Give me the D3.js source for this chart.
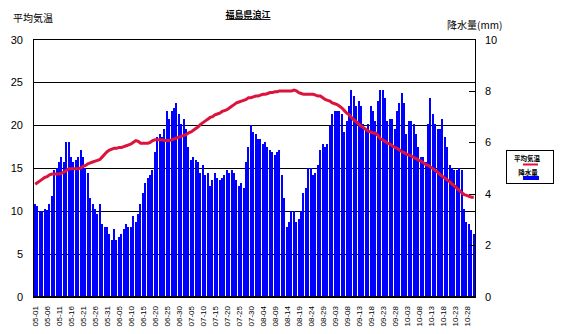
<!DOCTYPE html>
<html>
<head>
<meta charset="utf-8">
<script src="https://cdn.jsdelivr.net/npm/d3@7"></script>
<style>
  html, body { margin: 0; padding: 0; background: #fff; }
  svg { display: block; }
  .jp { font-family: "Noto Sans CJK JP", "Noto Sans", sans-serif; }
  .num { font-family: "Liberation Sans", Arial, sans-serif; }
</style>
</head>
<body>
<svg id="chart" width="567" height="334"></svg>
<script>
// 福島県浪江: daily normals, 1 May – 31 Oct
const stationName = "福島県浪江";
const tempTitle = "平均気温";
const rainTitle = "降水量(mm)";
const legendTemp = "平均気温";
const legendRain = "降水量";

// Day-by-day mean temperature (°C), index 0 = 05-01
const meanTemp = [
  13.1,13.3,13.5,13.7,13.9,14.0,14.2,14.3,14.3,14.3,
  14.3,14.4,14.5,14.7,14.9,14.9,14.9,14.9,14.9,15.0,
  15.2,15.3,15.5,15.6,15.7,15.8,15.9,16.0,16.3,16.6,
  16.9,17.1,17.2,17.3,17.3,17.4,17.4,17.5,17.6,17.7,
  17.8,18.0,18.2,18.1,17.9,17.9,17.9,17.9,18.0,18.2,
  18.3,18.3,18.3,18.3,18.2,18.2,18.2,18.3,18.4,18.5,
  18.6,18.7,18.8,18.9,19.1,19.2,19.4,19.6,19.8,20.1,
  20.3,20.5,20.7,20.9,21.0,21.2,21.3,21.4,21.6,21.7,
  21.8,22.0,22.2,22.4,22.6,22.7,22.8,22.9,23.0,23.2,
  23.2,23.3,23.4,23.4,23.5,23.6,23.6,23.7,23.8,23.8,
  23.9,23.9,24.0,24.0,24.0,24.0,24.0,24.0,24.1,24.0,
  23.8,23.7,23.6,23.6,23.6,23.6,23.6,23.5,23.4,23.4,
  23.2,23.0,22.9,22.8,22.6,22.5,22.4,22.2,22.0,21.7,
  21.4,21.2,20.9,20.6,20.4,20.1,19.9,19.7,19.5,19.3,
  19.2,19.1,19.1,18.8,18.4,18.3,18.1,17.9,17.8,17.6,
  17.4,17.3,17.1,16.9,16.8,16.6,16.5,16.4,16.2,16.1,
  15.9,15.8,15.6,15.4,15.3,15.1,14.9,14.7,14.5,14.2,
  14.0,13.8,13.6,13.4,13.1,12.9,12.6,12.4,12.1,11.9,
  11.8,11.7,11.6,11.6
];

// Day-by-day precipitation (mm), index 0 = 05-01
const rainfall = [
  3.60,3.52,3.33,3.33,3.41,3.36,3.60,3.91,4.92,4.99,
  5.23,5.43,5.23,6.00,6.00,5.43,5.23,5.30,5.43,5.70,
  5.43,5.00,4.79,3.85,3.60,3.41,3.21,3.60,2.82,2.69,
  2.69,2.43,2.20,2.63,2.20,2.31,2.43,2.63,2.82,2.69,
  2.69,3.13,2.91,3.21,3.60,4.04,4.43,4.61,4.73,4.92,
  5.62,6.20,6.32,6.20,6.51,7.21,6.90,7.21,7.33,7.52,
  7.10,6.71,6.90,6.51,5.82,5.31,5.43,5.31,5.23,4.81,
  5.12,4.73,4.81,4.30,4.53,4.81,4.61,4.53,4.61,4.73,
  4.92,4.81,4.92,4.81,4.53,4.30,4.42,4.22,5.23,5.82,
  6.67,6.40,6.32,6.13,6.13,5.93,6.01,5.82,5.70,5.62,
  5.51,5.62,5.70,4.73,3.83,2.71,2.90,3.33,3.33,2.90,
  3.02,3.33,4.03,4.22,5.00,5.00,4.73,4.81,5.12,5.70,
  5.93,5.82,5.93,6.64,7.10,7.21,7.21,7.21,7.10,6.40,
  6.84,7.41,8.03,7.80,7.41,7.60,7.41,6.71,6.51,6.71,
  7.41,7.21,6.84,7.60,8.03,8.03,7.72,6.84,6.90,6.90,
  6.51,7.21,7.52,7.91,7.52,6.32,6.84,6.84,6.71,6.32,
  5.82,5.43,5.43,5.23,6.71,7.72,7.10,6.71,6.51,6.51,
  6.90,6.20,5.82,5.12,5.00,4.92,4.92,5.00,4.92,3.41,
  2.90,2.82,2.60,2.43
];

// Axis tick values
const tempTicks = [0, 5, 10, 15, 20, 25, 30];
const rainTicks = [0, 2, 4, 6, 8, 10];
const dateTicks = [
  "05-01","05-06","05-11","05-16","05-21","05-26","05-31",
  "06-05","06-10","06-15","06-20","06-25","06-30",
  "07-05","07-10","07-15","07-20","07-25","07-30",
  "08-04","08-09","08-14","08-19","08-24","08-29",
  "09-03","09-08","09-13","09-18","09-23","09-28",
  "10-03","10-08","10-13","10-18","10-23","10-28"
];

// Day labels for every point (MM-DD) from the calendar
const fmt = d3.timeFormat("%m-%d");
const days = d3.timeDay.range(new Date(2001, 4, 1), new Date(2001, 10, 1)).map(fmt);

const svg = d3.select("#chart");
const plot = { left: 33, right: 475, top: 39.5, bottom: 296.5 };

const x = d3.scaleBand().domain(days).range([plot.left + 1, plot.right]).padding(0);
const yT = d3.scaleLinear().domain([0, 30]).range([plot.bottom, plot.top]);
const yR = d3.scaleLinear().domain([0, 10]).range([plot.bottom, plot.top]);

// grid lines
svg.append("g")
  .selectAll("line")
  .data(tempTicks.filter(t => t > 0 && t < 30))
  .join("line")
  .attr("x1", plot.left).attr("x2", plot.right)
  .attr("y1", d => Math.round(yT(d)) + 0.5).attr("y2", d => Math.round(yT(d)) + 0.5)
  .attr("stroke", "#000").attr("stroke-width", 1);

// precipitation bars
svg.append("g")
  .attr("shape-rendering", "crispEdges")
  .selectAll("rect")
  .data(rainfall)
  .join("rect")
  .attr("x", (d, i) => Math.round(x(days[i])))
  .attr("width", 2)
  .attr("y", d => yR(d))
  .attr("height", d => plot.bottom - yR(d))
  .attr("fill", "#0000ff");

// frame
svg.append("rect")
  .attr("x", plot.left + 0.5).attr("y", plot.top)
  .attr("width", plot.right - plot.left).attr("height", plot.bottom - plot.top)
  .attr("fill", "none").attr("stroke", "#000").attr("stroke-width", 1);
svg.append("line")
  .attr("x1", plot.left).attr("x2", plot.right + 1)
  .attr("y1", plot.bottom + 0.5).attr("y2", plot.bottom + 0.5)
  .attr("stroke", "#000").attr("stroke-width", 2);

// right-hand minor ticks for precipitation
svg.append("g")
  .selectAll("line")
  .data(rainTicks.filter(t => t > 0 && t < 10))
  .join("line")
  .attr("x1", plot.right - 6).attr("x2", plot.right)
  .attr("y1", d => Math.round(yR(d)) + 0.5).attr("y2", d => Math.round(yR(d)) + 0.5)
  .attr("stroke", "#000");

// mean temperature line
const line = d3.line()
  .x((d, i) => x(days[i]) + x.bandwidth() / 2)
  .y(d => yT(d));
svg.append("path")
  .datum(meanTemp)
  .attr("d", line)
  .attr("fill", "none")
  .attr("stroke", "#dc143c")
  .attr("stroke-width", 3);

// left axis labels
svg.append("g").attr("class", "num")
  .selectAll("text")
  .data(tempTicks)
  .join("text")
  .attr("x", 23).attr("y", d => yT(d) + 4)
  .attr("text-anchor", "end")
  .attr("font-size", 11)
  .text(d => d);

// right axis labels
svg.append("g").attr("class", "num")
  .selectAll("text")
  .data(rainTicks)
  .join("text")
  .attr("x", 485).attr("y", d => yR(d) + 4)
  .attr("font-size", 11)
  .text(d => d);

// date labels, rotated
svg.append("g").attr("class", "num")
  .selectAll("text")
  .data(dateTicks)
  .join("text")
  .attr("transform", d => `translate(${x(d) + x.bandwidth() / 2 + 3},306) rotate(-90)`)
  .attr("text-anchor", "end")
  .attr("font-size", 8)
  .text(d => d);

// titles
svg.append("text").attr("class", "jp")
  .attr("x", 248).attr("y", 18)
  .attr("text-anchor", "middle")
  .attr("font-size", 9).attr("font-weight", "bold")
  .attr("text-decoration", "underline")
  .text(stationName);
svg.append("text").attr("class", "jp")
  .attr("x", 13).attr("y", 22)
  .attr("font-size", 10)
  .text(tempTitle);
svg.append("text").attr("class", "jp")
  .attr("x", 447).attr("y", 29)
  .attr("font-size", 10)
  .text(rainTitle);

// legend
const lg = svg.append("g");
lg.append("rect")
  .attr("x", 506.5).attr("y", 150.5).attr("width", 47).attr("height", 33)
  .attr("fill", "#fff").attr("stroke", "#000");
lg.append("text").attr("class", "jp")
  .attr("x", 527).attr("y", 161).attr("text-anchor", "middle")
  .attr("font-size", 6.5).attr("font-weight", "bold")
  .text(legendTemp);
lg.append("line")
  .attr("x1", 523).attr("x2", 538).attr("y1", 164.5).attr("y2", 164.5)
  .attr("stroke", "#dc143c").attr("stroke-width", 2);
lg.append("text").attr("class", "jp")
  .attr("x", 528).attr("y", 175).attr("text-anchor", "middle")
  .attr("font-size", 6.5).attr("font-weight", "bold")
  .text(legendRain);
lg.append("rect")
  .attr("x", 523).attr("y", 176).attr("width", 16).attr("height", 4)
  .attr("fill", "#0000ff");
</script>
</body>
</html>
